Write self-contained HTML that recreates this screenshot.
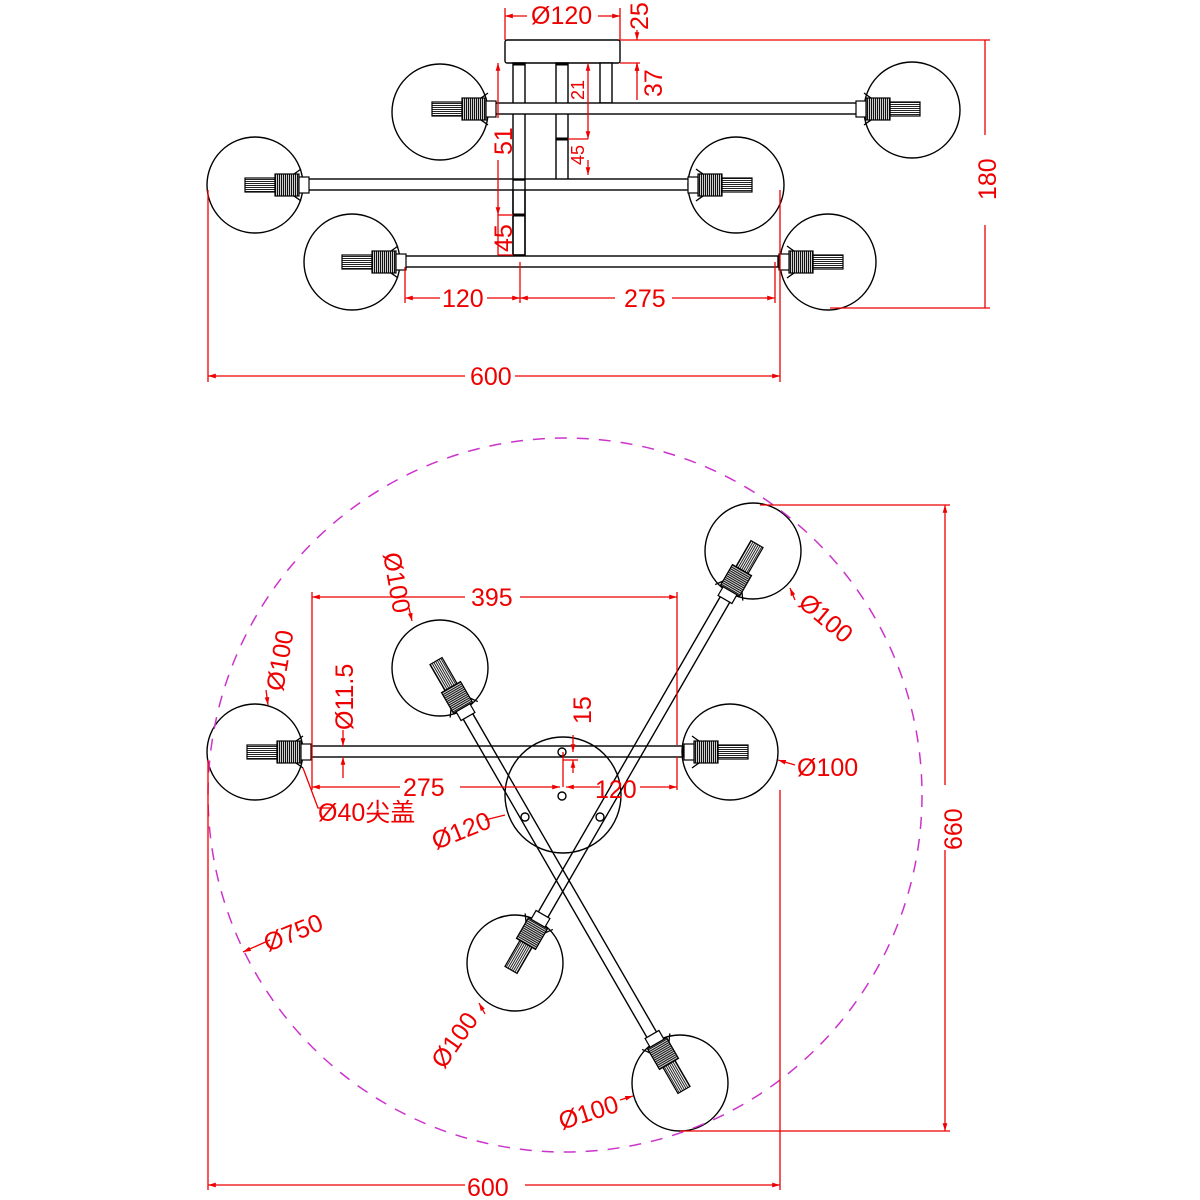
<!DOCTYPE html>
<html><head><meta charset="utf-8"><style>
html,body{margin:0;padding:0;background:#fff}
svg{display:block}
text{font-family:"Liberation Sans","Noto Sans CJK SC",sans-serif;fill:#e00;font-size:23px}
.b{font-size:25px}
</style></head><body>
<svg width="1200" height="1200" viewBox="0 0 1200 1200" xmlns="http://www.w3.org/2000/svg">
<defs>
<marker id="a" viewBox="0 0 10 10" refX="10" refY="5" markerWidth="8" markerHeight="6" orient="auto-start-reverse"><path d="M0,2 L10,5 L0,8z" fill="#e00"/></marker>
<pattern id="th" width="2" height="4" patternUnits="userSpaceOnUse"><rect width="2" height="4" fill="#fff"/><rect width="1.2" height="4" fill="#111"/></pattern>
<pattern id="st" width="4" height="2" patternUnits="userSpaceOnUse"><rect width="4" height="2" fill="#fff"/><rect width="4" height="1" fill="#222"/></pattern>
<g id="sock">
<path d="M48,-16 Q40,-10 36,-8 L36,8 Q40,10 48,16" fill="none" stroke="#000" stroke-width="1.3"/>
<rect x="-8" y="-7" width="30" height="14" fill="url(#st)" stroke="#000" stroke-width="1.2"/>
<rect x="22" y="-11" width="24" height="22" fill="url(#th)" stroke="#000" stroke-width="1.2"/>
<rect x="46" y="-8" width="10" height="16" fill="#fff" stroke="#000" stroke-width="1.2"/>
</g>
</defs>
<g fill="none" stroke="#000" stroke-width="1.4">
<rect x="505" y="40" width="115" height="23" rx="2"/>
<rect x="513" y="63" width="12" height="192" fill="#fff"/>
<line x1="513" y1="215" x2="525" y2="215" stroke-width="3"/>
<rect x="556" y="63" width="12" height="117" fill="#fff"/>
<line x1="556" y1="139" x2="568" y2="139" stroke-width="3"/>
<rect x="600" y="63" width="12" height="40" fill="#fff"/>
<line x1="513" y1="64" x2="525" y2="64" stroke-width="3"/><line x1="556" y1="64" x2="568" y2="64" stroke-width="3"/>
<rect x="490" y="103" width="372" height="11" fill="#fff"/>
<rect x="300" y="179" width="390" height="11" fill="#fff"/>
<rect x="405" y="256" width="373" height="11" fill="#fff"/>
<rect x="513" y="180" width="12" height="75" fill="none"/>
<circle cx="440" cy="112" r="48"/><use href="#sock" transform="translate(440,109)"/>
<circle cx="912" cy="110" r="48"/><use href="#sock" transform="translate(912,109) rotate(180)"/>
<circle cx="255" cy="185" r="48"/><use href="#sock" transform="translate(253,185)"/>
<circle cx="736" cy="185" r="48"/><use href="#sock" transform="translate(744,185) rotate(180)"/>
<circle cx="352" cy="262" r="48"/><use href="#sock" transform="translate(350,262)"/>
<circle cx="828" cy="262" r="48"/><use href="#sock" transform="translate(835,262) rotate(180)"/>

<circle cx="563" cy="795" r="58"/>
<circle cx="562" cy="752" r="4"/><circle cx="562" cy="796" r="4"/><circle cx="525" cy="817" r="4"/><circle cx="600" cy="817" r="4"/>
<rect x="309" y="746" width="374" height="11" fill="none"/>
<g transform="translate(440,668) rotate(60)"><rect x="55" y="-5.5" width="425" height="11"/></g>
<g transform="translate(753,551) rotate(120)"><rect x="55" y="-5.5" width="420" height="11"/></g>
<circle cx="255" cy="752" r="48"/><use href="#sock" transform="translate(255,752)"/>
<circle cx="730" cy="752" r="48"/><use href="#sock" transform="translate(740,752) rotate(180)"/>
<circle cx="440" cy="668" r="48"/><use href="#sock" transform="translate(440,668) rotate(60)"/>
<circle cx="680" cy="1083" r="48"/><use href="#sock" transform="translate(680,1083) rotate(240)"/>
<circle cx="753" cy="551" r="48"/><use href="#sock" transform="translate(753,551) rotate(120)"/>
<circle cx="515" cy="963" r="48"/><use href="#sock" transform="translate(515,963) rotate(300)"/>
</g>
<circle cx="565" cy="795" r="357" fill="none" stroke="#c3c" stroke-width="1.5" stroke-dasharray="12,10"/>

<g stroke="#e00" stroke-width="1.3" fill="none">
<line x1="505" y1="8" x2="505" y2="40"/><line x1="620" y1="8" x2="620" y2="40"/>
<line x1="505" y1="16" x2="527" y2="16" marker-start="url(#a)"/><line x1="598" y1="16" x2="620" y2="16" marker-end="url(#a)"/>
<line x1="620" y1="40" x2="990" y2="40"/><line x1="620" y1="63" x2="640" y2="63"/>
<line x1="637" y1="30" x2="637" y2="40" marker-end="url(#a)"/><line x1="637" y1="63" x2="637" y2="73" marker-start="url(#a)"/>
<line x1="637" y1="63" x2="637" y2="100" marker-start="url(#a)"/>
<line x1="498" y1="63" x2="498" y2="118" marker-start="url(#a)"/><line x1="498" y1="160" x2="498" y2="215" marker-end="url(#a)"/>
<line x1="498" y1="215" x2="513" y2="215"/><line x1="498" y1="255" x2="513" y2="255"/>
<line x1="498" y1="215" x2="498" y2="255"/>
<line x1="588" y1="63" x2="588" y2="139" marker-start="url(#a)" marker-end="url(#a)"/><line x1="568" y1="139" x2="588" y2="139"/>
<line x1="588" y1="160" x2="588" y2="175" marker-end="url(#a)"/>
<line x1="985" y1="40" x2="985" y2="135"/><line x1="985" y1="225" x2="985" y2="308"/>
<line x1="830" y1="308" x2="990" y2="308"/>
<line x1="405" y1="267" x2="405" y2="303"/><line x1="520" y1="262" x2="520" y2="303"/><line x1="775" y1="262" x2="775" y2="303"/>
<line x1="405" y1="298" x2="440" y2="298" marker-start="url(#a)"/><line x1="487" y1="298" x2="520" y2="298" marker-end="url(#a)"/>
<line x1="520" y1="298" x2="615" y2="298" marker-start="url(#a)"/><line x1="672" y1="298" x2="775" y2="298" marker-end="url(#a)"/>
<line x1="208" y1="190" x2="208" y2="382"/><line x1="780" y1="190" x2="780" y2="382"/>
<line x1="208" y1="376" x2="465" y2="376" marker-start="url(#a)"/><line x1="515" y1="376" x2="780" y2="376" marker-end="url(#a)"/>
<line x1="312" y1="592" x2="312" y2="790"/><line x1="677" y1="592" x2="677" y2="745"/>
<line x1="312" y1="597" x2="465" y2="597" marker-start="url(#a)"/><line x1="520" y1="597" x2="677" y2="597" marker-end="url(#a)"/>
<line x1="312" y1="787" x2="400" y2="787" marker-start="url(#a)"/><line x1="460" y1="787" x2="560" y2="787" marker-end="url(#a)"/>
<line x1="566" y1="787" x2="600" y2="787" marker-start="url(#a)"/><line x1="640" y1="787" x2="677" y2="787" marker-end="url(#a)"/>
<line x1="677" y1="757" x2="677" y2="790"/>
<line x1="563" y1="752" x2="563" y2="787"/>
<line x1="573" y1="735" x2="573" y2="752" marker-end="url(#a)"/><line x1="573" y1="760" x2="573" y2="773" marker-start="url(#a)"/>
<line x1="563" y1="760" x2="578" y2="760"/>
<line x1="343" y1="730" x2="343" y2="746" marker-end="url(#a)"/><line x1="343" y1="757" x2="343" y2="778" marker-start="url(#a)"/>
<line x1="208" y1="760" x2="208" y2="1190"/><line x1="780" y1="790" x2="780" y2="1190"/>
<line x1="208" y1="1185" x2="465" y2="1185" marker-start="url(#a)"/><line x1="525" y1="1185" x2="780" y2="1185" marker-end="url(#a)"/>
<line x1="760" y1="505" x2="950" y2="505"/><line x1="680" y1="1131" x2="950" y2="1131"/>
<line x1="945" y1="505" x2="945" y2="785" marker-start="url(#a)"/><line x1="945" y1="850" x2="945" y2="1131" marker-end="url(#a)"/>
<polyline points="303,768 318,808 330,808"/>
<line x1="243" y1="952" x2="270" y2="940" marker-start="url(#a)"/>
<line x1="795" y1="765" x2="778" y2="760" marker-end="url(#a)"/>
<line x1="795" y1="600" x2="790" y2="588" marker-end="url(#a)"/>
<line x1="266" y1="690" x2="268" y2="705" marker-end="url(#a)"/>
<line x1="409" y1="608" x2="412" y2="621" marker-end="url(#a)"/>
<line x1="485" y1="1014" x2="479" y2="1003" marker-end="url(#a)"/>
<line x1="620" y1="1100" x2="633" y2="1096" marker-end="url(#a)"/>
<line x1="485" y1="820" x2="505" y2="815"/>
</g>
<g>
<text x="531" y="24" class="b">Ø120</text>
<text transform="translate(648,30) rotate(-90)" class="b">25</text>
<text transform="translate(662,97) rotate(-90)" class="b">37</text>
<text transform="translate(512,155) rotate(-90)" class="b">51</text>
<text transform="translate(512,252) rotate(-90)" class="b">45</text>
<text transform="translate(584,100) rotate(-90)" style="font-size:18px">21</text>
<text transform="translate(584,165) rotate(-90)" style="font-size:18px">45</text>
<text transform="translate(996,200) rotate(-90)" class="b">180</text>
<text x="442" y="307" class="b">120</text>
<text x="624" y="307" class="b">275</text>
<text x="470" y="385" class="b">600</text>
<text x="471" y="606" class="b">395</text>
<text x="403" y="796" class="b">275</text>
<text x="595" y="798" class="b">120</text>
<text transform="translate(591,724) rotate(-90)" class="b">15</text>
<text transform="translate(353,730) rotate(-90)" class="b">Ø11.5</text>
<text transform="translate(283,692) rotate(-80)" class="b">Ø100</text>
<text transform="translate(383,554) rotate(80)" class="b">Ø100</text>
<text x="318" y="821" class="b">Ø40尖盖</text>
<text transform="translate(436,850) rotate(-22)" class="b">Ø120</text>
<text transform="translate(268,952) rotate(-22)" class="b">Ø750</text>
<text transform="translate(797,605) rotate(40)" class="b">Ø100</text>
<text x="797" y="776" class="b">Ø100</text>
<text transform="translate(962,850) rotate(-90)" class="b">660</text>
<text x="467" y="1196" class="b">600</text>
<text transform="translate(444,1070) rotate(-55)" class="b">Ø100</text>
<text transform="translate(562,1130) rotate(-18)" class="b">Ø100</text>
</g>
</svg>
</body></html>
